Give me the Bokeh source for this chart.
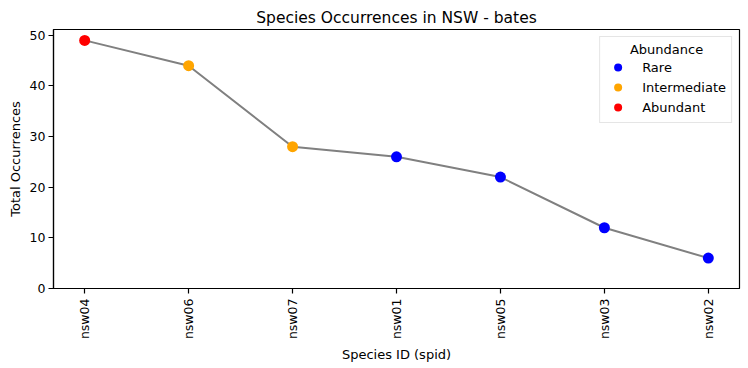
import math
from bokeh.plotting import figure
from bokeh.models import Range1d, FixedTicker, ColumnDataSource, Legend, LegendItem
from bokeh.embed import file_html
from bokeh.resources import INLINE

species = ["nsw04", "nsw06", "nsw07", "nsw01", "nsw05", "nsw03", "nsw02"]
occurrences = [49, 44, 28, 26, 22, 12, 6]
abundance = ["Abundant", "Intermediate", "Intermediate", "Rare", "Rare", "Rare", "Rare"]
categories = ["Rare", "Intermediate", "Abundant"]
cat_colors = {"Rare": "#0000ff", "Intermediate": "#ffa500", "Abundant": "#ff0000"}
y_ticks = [0, 10, 20, 30, 40, 50]

FONT = "DejaVu Sans"
idx = list(range(len(species)))

p = figure(width=748, height=368, output_backend="svg", toolbar_location=None,
           x_range=Range1d(-0.3, len(species) - 1 + 0.3),
           y_range=Range1d(0, max(occurrences) + 0.05 * (max(occurrences) - min(occurrences))),
           min_border_left=53, min_border_top=29, min_border_right=9, min_border_bottom=80)

p.title.text = "Species Occurrences in NSW - bates"
p.title.align = "center"
p.title.text_font = FONT
p.title.text_font_size = "15.5px"
p.title.text_font_style = "normal"
p.title.text_color = "black"
p.title.standoff = 5

p.xgrid.visible = False
p.ygrid.visible = False
p.outline_line_color = "black"
p.outline_line_width = 1.2
p.outline_line_alpha = 1

src = ColumnDataSource(dict(x=idx, y=occurrences))
p.line("x", "y", source=src, line_color="gray", line_width=2)

items = []
for cat in categories:
    xs = [i for i, a in zip(idx, abundance) if a == cat]
    ys = [v for v, a in zip(occurrences, abundance) if a == cat]
    r = p.scatter(xs, ys, size=11, fill_color=cat_colors[cat], line_color=cat_colors[cat], line_width=0)
    items.append(LegendItem(label=cat, renderers=[r]))

legend = Legend(items=items, location="top_right", title="\u00a0" * 6 + "Abundance")
legend.title_text_font = FONT
legend.title_text_font_size = "13px"
legend.title_text_font_style = "normal"
legend.title_text_color = "black"
legend.title_standoff = 0
legend.label_text_font = FONT
legend.label_text_font_size = "13px"
legend.label_text_color = "black"
legend.padding = 5
legend.margin = 7
legend.spacing = 0
legend.label_height = 20
legend.glyph_height = 20
legend.glyph_width = 25
legend.label_standoff = 12
legend.border_line_color = "#cccccc"
legend.border_line_width = 1
legend.background_fill_alpha = 0.8
p.add_layout(legend)

for ax in (p.xaxis[0], p.yaxis[0]):
    ax.axis_line_color = "black"
    ax.axis_line_width = 1.2
    ax.major_tick_line_color = "black"
    ax.major_tick_line_width = 1.2
    ax.major_tick_out = 5
    ax.major_tick_in = 0
    ax.minor_tick_out = 0
    ax.minor_tick_in = 0
    ax.major_label_text_font = FONT
    ax.major_label_text_font_size = "12.5px"
    ax.major_label_text_color = "black"
    ax.axis_label_text_font = FONT
    ax.axis_label_text_font_size = "13px"
    ax.axis_label_text_font_style = "normal"
    ax.axis_label_text_color = "black"

p.xaxis.ticker = FixedTicker(ticks=idx)
p.xaxis.major_label_overrides = {i: s for i, s in zip(idx, species)}
p.xaxis.major_label_orientation = math.pi / 2
p.xaxis.major_label_standoff = 5
p.xaxis.axis_label = "Species ID (spid)"
p.xaxis.axis_label_standoff = 5

p.yaxis.ticker = FixedTicker(ticks=y_ticks)
p.yaxis.major_label_standoff = 3
p.yaxis.axis_label = "Total Occurrences"
p.yaxis.axis_label_standoff = 4

open("out.html", "w").write(file_html(p, INLINE))
